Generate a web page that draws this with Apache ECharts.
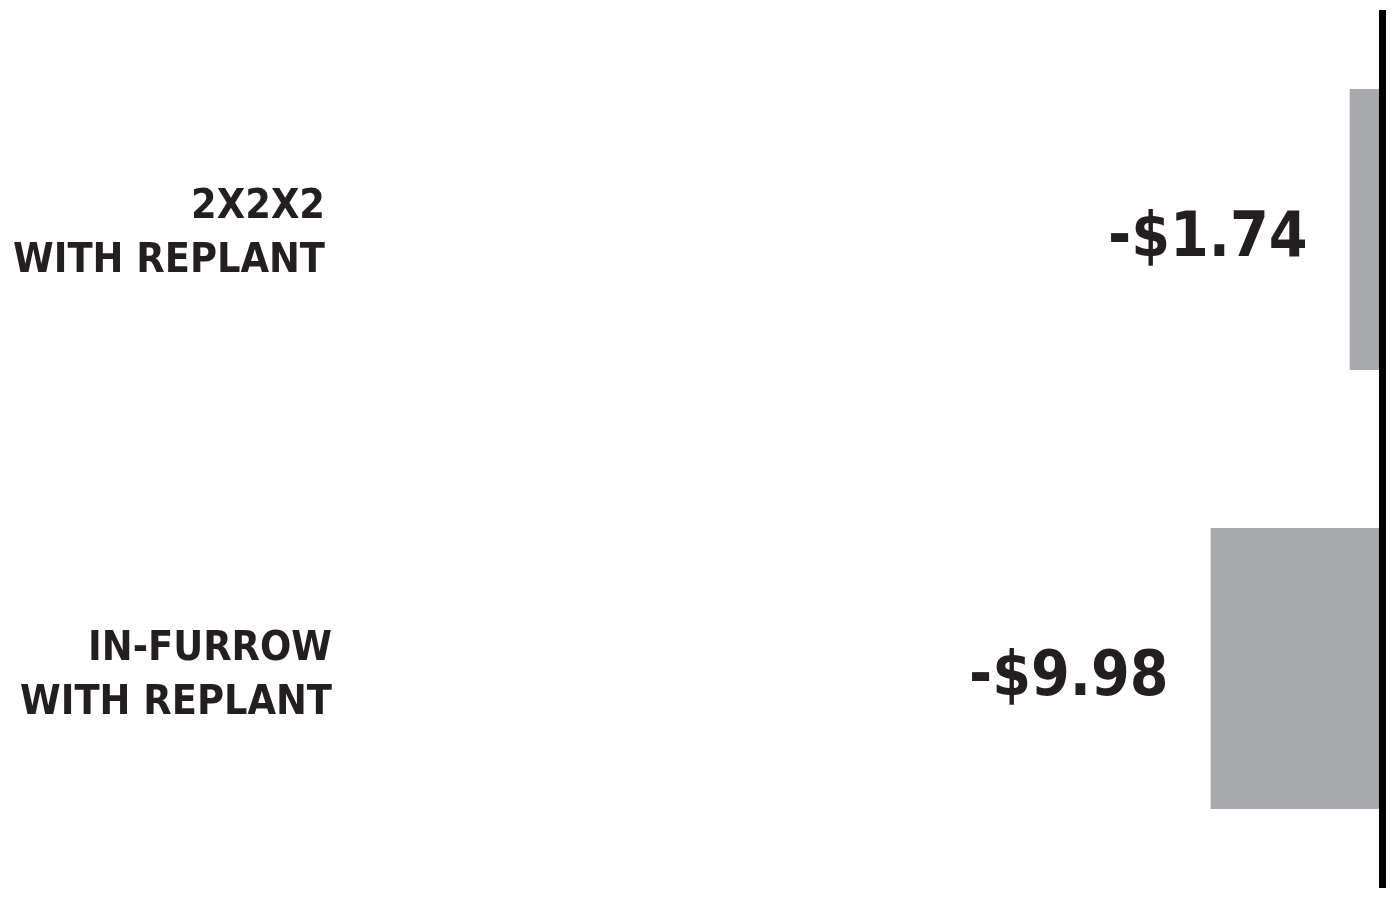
<!DOCTYPE html>
<html>
<head>
<meta charset="utf-8">
<script src="https://cdn.jsdelivr.net/npm/echarts@6/dist/echarts.min.js"></script>
<style>
html,body{margin:0;padding:0;background:#fff;}
#chart{width:1400px;height:909px;}
</style>
</head>
<body>
<div id="chart"></div>
<script>
const categoryTop = ['2X2X2', 'IN-FURROW'];
const categoryBottom = ['WITH REPLANT', 'WITH REPLANT'];
const categories = ['2X2X2\nWITH REPLANT', 'IN-FURROW\nWITH REPLANT'];
const values = [-1.74, -9.98];
const valueLabels = ['-$1.74', '-$9.98'];

const FONT = '"DejaVu Sans Condensed", "Liberation Sans Narrow", sans-serif';
const INK = '#231f20';

const chart = echarts.init(document.getElementById('chart'), null, {renderer: 'canvas'});
chart.setOption({
  backgroundColor: '#ffffff',
  animation: false,
  grid: {left: 340, right: 21, top: 10, bottom: 21, containLabel: false, outerBoundsMode: 'none'},
  xAxis: {
    type: 'value', min: -61.6, max: 0, show: false
  },
  yAxis: [
    {
      type: 'category', inverse: true, position: 'left',
      data: categories,
      axisLine: {show: false}, axisTick: {show: false}, splitLine: {show: false},
      axisLabel: {
        margin: 8, align: 'right',
        fontFamily: FONT, fontWeight: 'bold', fontSize: 41,
        lineHeight: 54, color: INK,
        formatter: function (v, i) {
          return '{sp' + i + '| }\n{t' + i + '|' + categoryTop[i] + '}\n{t' + i + '|' + categoryBottom[i] + '}';
        },
        rich: {
          sp0: {fontSize: 1, lineHeight: 10},
          sp1: {fontSize: 1, lineHeight: 16},
          t0: {fontFamily: FONT, fontWeight: 'bold', fontSize: 41, lineHeight: 54, color: INK, padding: [0, 7, 0, 0]},
          t1: {fontFamily: FONT, fontWeight: 'bold', fontSize: 41, lineHeight: 54, color: INK}
        }
      }
    },
    {
      type: 'category', inverse: true, position: 'right', offset: 3.5,
      data: categories,
      axisLine: {show: true, lineStyle: {color: '#000000', width: 7, cap: 'butt'}},
      axisTick: {show: false}, axisLabel: {show: false}, splitLine: {show: false}
    }
  ],
  series: [{
    type: 'bar',
    yAxisIndex: 0,
    data: values,
    barCategoryGap: '36%',
    itemStyle: {color: '#a8a9ac'},
    label: {
      show: true, position: 'left', distance: 42, offset: [0, 10],
      fontFamily: FONT, fontWeight: 'bold', fontSize: 62, color: INK,
      formatter: function (p) { return valueLabels[p.dataIndex]; }
    }
  }]
});
</script>
</body>
</html>
